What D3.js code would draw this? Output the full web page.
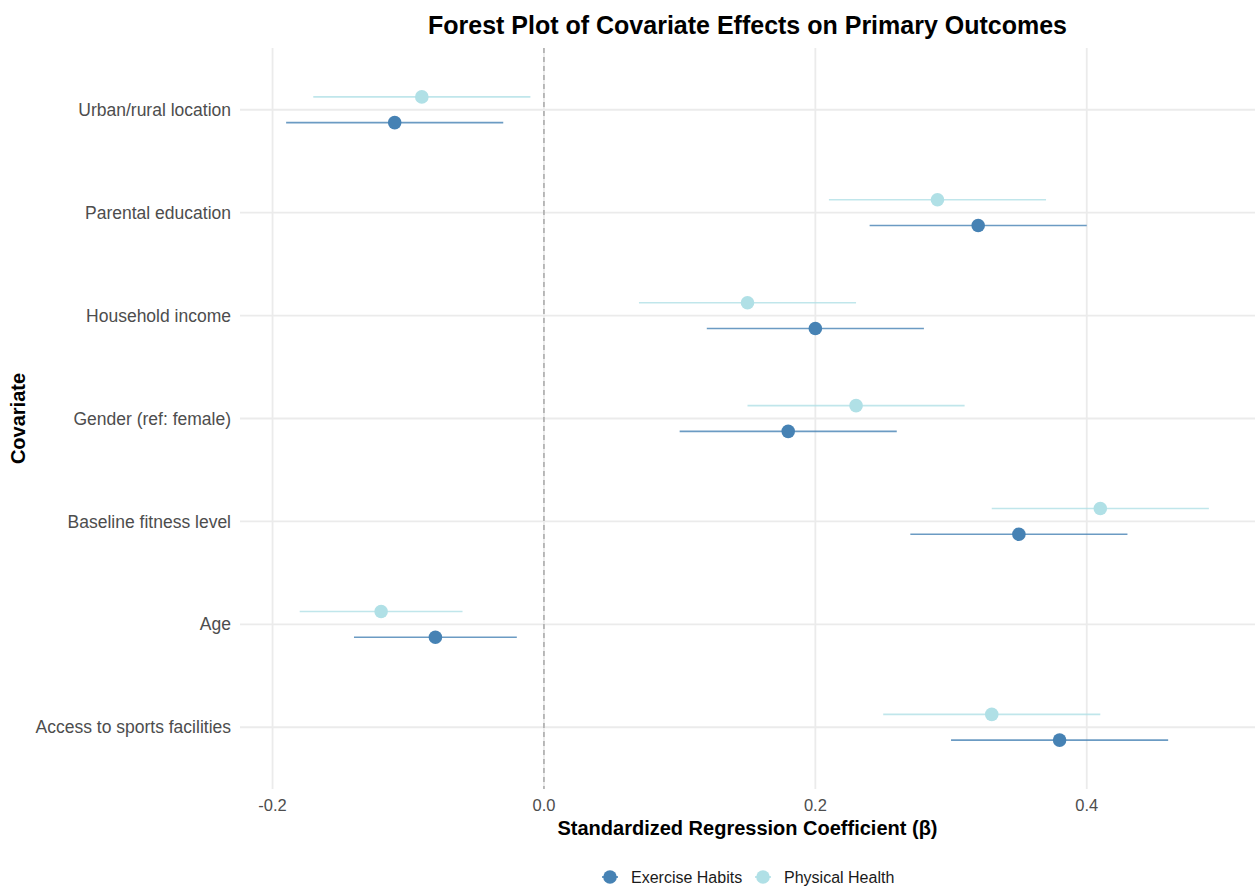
<!DOCTYPE html>
<html lang="en">
  <head>
    <meta charset="utf-8" />
    <title>forest plot</title>
    <script type="text/javascript" src="https://d3js.org/d3.v7.min.js"></script>
    <style>
      body { margin: 0; background: #fff; }
      text { font-family: "Liberation Sans", Arial, sans-serif; }
    </style>
  </head>
  <body>
    <div id="chart"></div>
    <script type="text/javascript">
      /********************************
       * data
       ********************************/

      // bottom to top, as ggplot orders the factor
      const covariates = [
        "Access to sports facilities",
        "Age",
        "Baseline fitness level",
        "Gender (ref: female)",
        "Household income",
        "Parental education",
        "Urban/rural location",
      ];
      const outcomes = ["Exercise Habits", "Physical Health"];

      const exerciseEst = [0.38, -0.08, 0.35, 0.18, 0.2, 0.32, -0.11];
      const exerciseLow = [0.3, -0.14, 0.27, 0.1, 0.12, 0.24, -0.19];
      const exerciseHigh = [0.46, -0.02, 0.43, 0.26, 0.28, 0.4, -0.03];

      const healthEst = [0.33, -0.12, 0.41, 0.23, 0.15, 0.29, -0.09];
      const healthLow = [0.25, -0.18, 0.33, 0.15, 0.07, 0.21, -0.17];
      const healthHigh = [0.41, -0.06, 0.49, 0.31, 0.23, 0.37, -0.01];

      const xTicks = [-0.2, 0.0, 0.2, 0.4];

      const colors = { "Exercise Habits": "#4682B4", "Physical Health": "#B0E0E6" };

      const rows = [];
      covariates.forEach((c, i) => {
        rows.push({ cov: c, outcome: "Exercise Habits", est: exerciseEst[i], lo: exerciseLow[i], hi: exerciseHigh[i] });
        rows.push({ cov: c, outcome: "Physical Health", est: healthEst[i], lo: healthLow[i], hi: healthHigh[i] });
      });

      /***************************
       * svg
       **************************/

      const width = 1255;
      const height = 888;
      const margin = { top: 48, right: 0, bottom: 99, left: 240 };

      const svg = d3
        .select("#chart")
        .append("svg")
        .attr("width", width)
        .attr("height", height);

      const xMin = d3.min(rows, (d) => d.lo);
      const xMax = d3.max(rows, (d) => d.hi);
      const pad = (xMax - xMin) * 0.05;

      const x = d3
        .scaleLinear()
        .domain([xMin - pad, xMax + pad])
        .range([margin.left, width - margin.right]);

      // discrete axis with 0.6 expansion like ggplot
      const n = covariates.length;
      const yc = d3
        .scaleLinear()
        .domain([-0.6, n - 1 + 0.6])
        .range([height - margin.bottom, margin.top]);
      const dodge = 0.125; // in category units

      const offset = (o) => (o === "Exercise Habits" ? -dodge : dodge);

      /****************************
       * grid
       ****************************/

      svg
        .append("g")
        .selectAll("line")
        .data(covariates)
        .join("line")
        .attr("x1", margin.left)
        .attr("x2", width - margin.right)
        .attr("y1", (d, i) => yc(i))
        .attr("y2", (d, i) => yc(i))
        .attr("stroke", "#ebebeb")
        .attr("stroke-width", 1.8);

      svg
        .append("g")
        .selectAll("line")
        .data(xTicks)
        .join("line")
        .attr("x1", (d) => x(d))
        .attr("x2", (d) => x(d))
        .attr("y1", margin.top)
        .attr("y2", height - margin.bottom)
        .attr("stroke", "#ebebeb")
        .attr("stroke-width", 1.8);

      // reference line at zero
      svg
        .append("line")
        .attr("x1", x(0))
        .attr("x2", x(0))
        .attr("y1", margin.top)
        .attr("y2", height - margin.bottom)
        .attr("stroke", "#9e9e9e")
        .attr("stroke-width", 1.3)
        .attr("stroke-dasharray", "5,4");

      /****************************
       * marks
       ****************************/

      const cIndex = (c) => covariates.indexOf(c);

      svg
        .append("g")
        .selectAll("line")
        .data(rows)
        .join("line")
        .attr("x1", (d) => x(d.lo))
        .attr("x2", (d) => x(d.hi))
        .attr("y1", (d) => yc(cIndex(d.cov) + offset(d.outcome)))
        .attr("y2", (d) => yc(cIndex(d.cov) + offset(d.outcome)))
        .attr("stroke", (d) => colors[d.outcome])
        .attr("stroke-opacity", 0.8)
        .attr("stroke-width", 1.6);

      svg
        .append("g")
        .selectAll("circle")
        .data(rows)
        .join("circle")
        .attr("cx", (d) => x(d.est))
        .attr("cy", (d) => yc(cIndex(d.cov) + offset(d.outcome)))
        .attr("r", 6.8)
        .attr("fill", (d) => colors[d.outcome]);

      /****************************
       * axes text
       ****************************/

      svg
        .append("g")
        .selectAll("text")
        .data(xTicks)
        .join("text")
        .attr("x", (d) => x(d))
        .attr("y", height - margin.bottom + 22)
        .attr("text-anchor", "middle")
        .attr("font-size", 16.5)
        .attr("fill", "#4d4d4d")
        .text((d) => d3.format(".1f")(d).replace("−", "-"));

      svg
        .append("g")
        .selectAll("text")
        .data(covariates)
        .join("text")
        .attr("x", margin.left - 9)
        .attr("y", (d, i) => yc(i))
        .attr("dy", "0.35em")
        .attr("text-anchor", "end")
        .attr("font-size", 17.5)
        .attr("fill", "#4d4d4d")
        .text((d) => d);

      svg
        .append("text")
        .attr("x", (margin.left + width - margin.right) / 2)
        .attr("y", 34)
        .attr("text-anchor", "middle")
        .attr("font-size", 25)
        .attr("font-weight", "bold")
        .text("Forest Plot of Covariate Effects on Primary Outcomes");

      svg
        .append("text")
        .attr("x", (margin.left + width - margin.right) / 2)
        .attr("y", height - margin.bottom + 46)
        .attr("text-anchor", "middle")
        .attr("font-size", 20)
        .attr("font-weight", "bold")
        .text("Standardized Regression Coefficient (β)");

      svg
        .append("text")
        .attr("transform", `translate(25,${(margin.top + height - margin.bottom) / 2}) rotate(-90)`)
        .attr("text-anchor", "middle")
        .attr("font-size", 20)
        .attr("font-weight", "bold")
        .text("Covariate");

      /****************************
       * legend
       ****************************/

      const legendX = [610, 763];
      const legend = svg
        .append("g")
        .selectAll("g")
        .data(outcomes)
        .join("g")
        .attr("transform", (d, i) => `translate(${legendX[i]},877)`);

      legend
        .append("line")
        .attr("x1", -8)
        .attr("x2", 8)
        .attr("stroke", (d) => colors[d])
        .attr("stroke-width", 1.6);

      legend
        .append("circle")
        .attr("r", 6.8)
        .attr("fill", (d) => colors[d]);

      legend
        .append("text")
        .attr("x", 21)
        .attr("dy", "0.35em")
        .attr("font-size", 16)
        .attr("fill", "#1a1a1a")
        .text((d) => d);
    </script>
  </body>
</html>
